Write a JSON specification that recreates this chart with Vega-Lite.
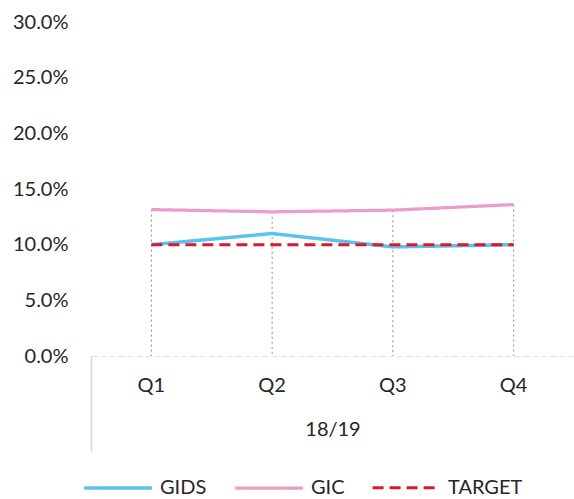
{
  "$schema": "https://vega.github.io/schema/vega-lite/v6.json",
  "width": 483,
  "height": 334,
  "autosize": {"type": "none"},
  "padding": {"left": 91, "top": 22, "right": 0, "bottom": 143},
  "background": "white",
  "config": {
    "view": {"stroke": null},
    "font": "Lato",
    "axis": {"labelFont": "Lato", "titleFont": "Lato", "labelColor": "#262626", "titleColor": "#262626"},
    "legend": {"labelFont": "Lato", "labelColor": "#262626"}
  },
  "data": {
    "values": [
      {"quarter": "Q1", "series": "GIDS", "value": 0.100},
      {"quarter": "Q2", "series": "GIDS", "value": 0.110},
      {"quarter": "Q3", "series": "GIDS", "value": 0.098},
      {"quarter": "Q4", "series": "GIDS", "value": 0.100},
      {"quarter": "Q1", "series": "GIC", "value": 0.1315},
      {"quarter": "Q2", "series": "GIC", "value": 0.1295},
      {"quarter": "Q3", "series": "GIC", "value": 0.131},
      {"quarter": "Q4", "series": "GIC", "value": 0.136},
      {"quarter": "Q1", "series": "TARGET", "value": 0.100},
      {"quarter": "Q2", "series": "TARGET", "value": 0.100},
      {"quarter": "Q3", "series": "TARGET", "value": 0.100},
      {"quarter": "Q4", "series": "TARGET", "value": 0.100}
    ]
  },
  "resolve": {"axis": {"x": "independent"}},
  "layer": [
    {
      "transform": [{"filter": "datum.series === 'GIC'"}],
      "mark": {"type": "rule", "color": "#8c8c8c", "strokeDash": [2, 3], "strokeWidth": 1},
      "encoding": {
        "x": {
          "field": "quarter",
          "type": "nominal",
          "bandPosition": 0.5,
          "scale": {"type": "band", "domain": ["Q1", "Q2", "Q3", "Q4"], "paddingInner": 0, "paddingOuter": 0},
          "axis": {
            "orient": "bottom",
            "title": null,
            "labels": false,
            "domain": false,
            "grid": false,
            "values": ["Q1"],
            "bandPosition": 0,
            "ticks": true,
            "tickSize": 95,
            "tickColor": "#d6d6d6",
            "tickWidth": 1.5
          }
        },
        "y": {"field": "value", "type": "quantitative"},
        "y2": {"datum": 0}
      }
    },
    {
      "mark": {"type": "line", "interpolate": "linear"},
      "encoding": {
        "x": {
          "field": "quarter",
          "type": "nominal",
          "bandPosition": 0.5,
          "scale": {"type": "band", "domain": ["Q1", "Q2", "Q3", "Q4"], "paddingInner": 0, "paddingOuter": 0},
          "axis": {
            "orient": "bottom",
            "title": "18/19",
            "titleFontSize": 20,
            "titleFontWeight": "normal",
            "titlePadding": 24,
            "labelAngle": 0,
            "labelFontSize": 20,
            "labelPadding": 19,
            "ticks": false,
            "domainColor": "#e2e2e2",
            "domainDash": [6, 3],
            "domainWidth": 1
          }
        },
        "y": {
          "field": "value",
          "type": "quantitative",
          "scale": {"domain": [0, 0.3], "nice": false},
          "axis": {
            "title": null,
            "values": [0, 0.05, 0.1, 0.15, 0.2, 0.25, 0.3],
            "format": ".1%",
            "labelFontSize": 20,
            "labelPadding": 23,
            "grid": false,
            "domain": false,
            "ticks": false
          }
        },
        "color": {
          "field": "series",
          "type": "nominal",
          "scale": {"domain": ["GIDS", "GIC", "TARGET"], "range": ["#5bc2ec", "#eb9dca", "#d8192f"]},
          "legend": {
            "title": null,
            "orient": "none",
            "direction": "horizontal",
            "legendX": -9,
            "legendY": 430,
            "labelFontSize": 20,
            "symbolType": "stroke",
            "symbolSize": 4600,
            "labelOffset": 6,
            "columnPadding": 21
          }
        },
        "strokeDash": {
          "field": "series",
          "type": "nominal",
          "scale": {"domain": ["GIDS", "GIC", "TARGET"], "range": [[1, 0], [1, 0], [11, 6]]},
          "legend": null
        },
        "strokeWidth": {
          "field": "series",
          "type": "nominal",
          "scale": {"domain": ["GIDS", "GIC", "TARGET"], "range": [3.5, 3, 5]},
          "legend": null
        }
      }
    }
  ]
}
